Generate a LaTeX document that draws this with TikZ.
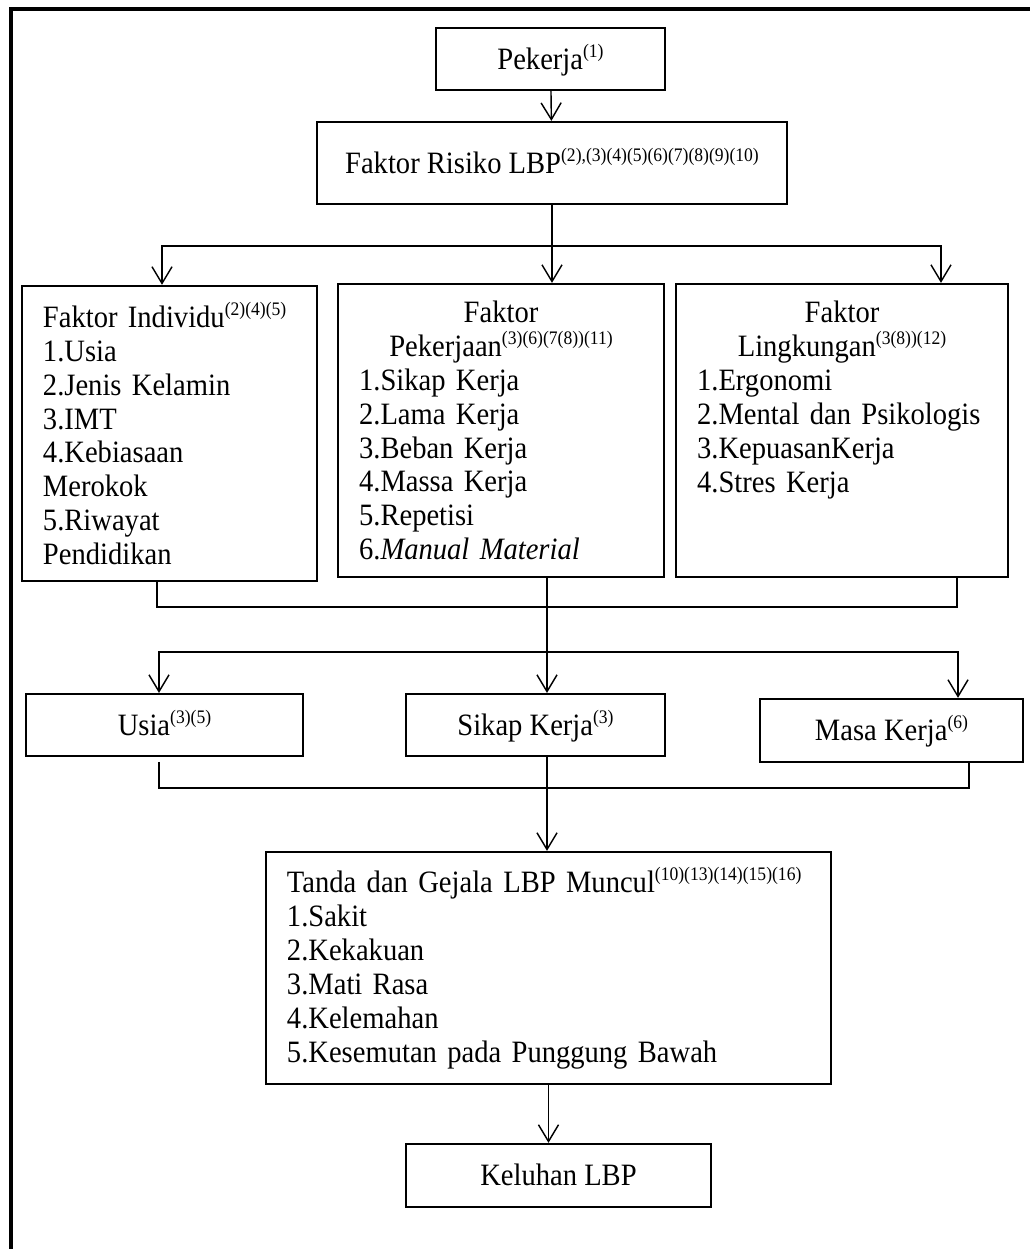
\documentclass[tikz,border=0pt]{standalone}
\usepackage{fontspec}
\setmainfont[FakeStretch=0.92]{Liberation Serif}
\usetikzlibrary{arrows.meta}
\newcommand{\sref}[1]{\raisebox{5pt}{\fontsize{8}{8}\selectfont #1}}
\newcommand{\ctrline}[1]{\makebox[\linewidth]{#1}}
\begin{document}
\begin{tikzpicture}[x=0.01471cm, y=-0.01471cm,
  frm/.style={draw, line width=0.95pt, font=\fontsize{13}{14.2}\selectfont, inner sep=0pt},
  box/.style={frm, text height=11pt, text depth=2.5pt},
  listbox/.style={frm, align=left, inner xsep=8.8pt},
  arr/.style={line width=0.6pt, -{Straight Barb[length=7pt,width=8.4pt]}},
  link/.style={line width=0.6pt}]
  \useasboundingbox (0,0) rectangle (1030,1249);
  \draw[line width=1.4pt] (11,1249) |- (1030,9);

  \node[box, minimum width=95.8pt, minimum height=25.9pt] (pek) at (550.5,59) {Pekerja\sref{(1)}};
  \node[box, minimum width=196.7pt, minimum height=34.3pt] (risk) at (552,163) {Faktor Risiko LBP\sref{(2),(3)(4)(5)(6)(7)(8)(9)(10)}};

  \node[listbox, text width=105.9pt, minimum height=123.5pt] (ind) at (169.5,433.5) {Faktor Individu\sref{(2)(4)(5)}\\ 1.Usia\\ 2.Jenis Kelamin\\ 3.IMT\\ 4.Kebiasaan\\ Merokok\\ 5.Riwayat\\ Pendidikan};
  \node[listbox, text width=118.8pt, minimum height=122.6pt] (job) at (501,430.5) {\ctrline{Faktor}\\ \ctrline{Pekerjaan\sref{(3)(6)(7(8))(11)}}\\ 1.Sikap Kerja\\ 2.Lama Kerja\\ 3.Beban Kerja\\ 4.Massa Kerja\\ 5.Repetisi\\ 6.\textit{Manual Material}};
  \node[listbox, text width=121.3pt, minimum height=122.6pt] (env) at (842,430.5) {\ctrline{Faktor}\\ \ctrline{Lingkungan\sref{(3(8))(12)}}\\ 1.Ergonomi\\ 2.Mental dan Psikologis\\ 3.KepuasanKerja\\ 4.Stres Kerja\\ ~\\ ~};

  \node[box, minimum width=115.9pt, minimum height=25.9pt] (usia) at (164.5,725) {Usia\sref{(3)(5)}};
  \node[box, minimum width=108.4pt, minimum height=25.9pt] (sikap) at (535.5,725) {Sikap Kerja\sref{(3)}};
  \node[box, minimum width=110.1pt, minimum height=26.4pt] (masa) at (891.5,730.5) {Masa Kerja\sref{(6)}};

  \node[listbox, text width=218.9pt, minimum height=97.1pt] (tanda) at (548.5,968) {\mbox{Tanda dan Gejala LBP Muncul\sref{(10)(13)(14)(15)(16)}}\\ 1.Sakit\\ 2.Kekakuan\\ 3.Mati Rasa\\ 4.Kelemahan\\ 5.Kesemutan pada Punggung Bawah};
  \node[box, minimum width=127.6pt, minimum height=26.4pt] (kel) at (558.5,1175.5) {Keluhan LBP};

  \coordinate (t1) at (552,246);
  \coordinate (l1) at (162,246);
  \coordinate (r1) at (941,246);
  \coordinate (a1) at (157,607);
  \coordinate (c1) at (957,607);
  \coordinate (j1) at (547,607);
  \coordinate (a2) at (159,652);
  \coordinate (c2) at (958,652);
  \coordinate (a3) at (159,788);
  \coordinate (c3) at (969,788);

  \draw[arr] (pek) -- (risk);
  \draw[link] (risk) -- (t1);
  \draw[arr] (t1) -- (t1 |- job.north);
  \draw[arr] (t1) -| (l1 |- ind.north);
  \draw[arr] (t1) -| (r1 |- env.north);

  \draw[link] (a1 |- ind.south) -- (a1) -- (c1) -- (c1 |- env.south);
  \draw[arr] (j1 |- job.south) -- (j1 |- sikap.north);
  \draw[arr] (j1 |- a2) -| (a2 |- usia.north);
  \draw[arr] (j1 |- c2) -| (c2 |- masa.north);

  \draw[link] ([yshift=-2pt]a3 |- usia.south) -- (a3) -- (c3) -- (c3 |- masa.south);
  \draw[arr] (j1 |- sikap.south) -- (j1 |- tanda.north);
  \draw[arr] (tanda.south) -- (tanda.south |- kel.north);
\end{tikzpicture}
\end{document}
